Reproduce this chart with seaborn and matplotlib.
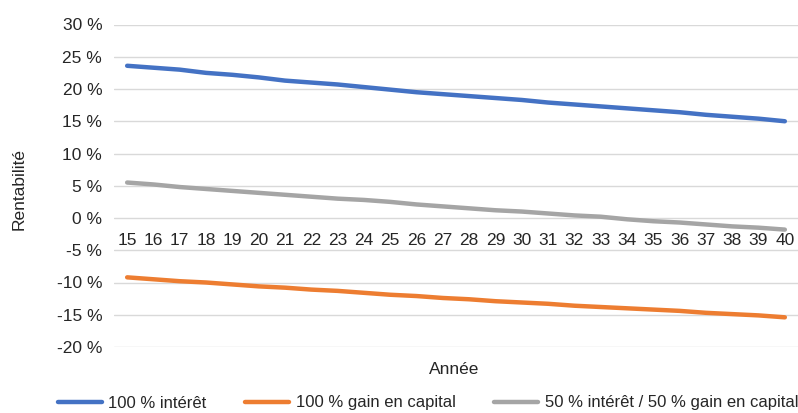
import matplotlib
matplotlib.use('Agg')
import matplotlib.pyplot as plt
import seaborn as sns
import pandas as pd
from matplotlib.lines import Line2D

# Data
years = list(range(15, 41))
interet = [23.6, 23.3, 23.0, 22.5, 22.2, 21.8, 21.3, 21.0, 20.7, 20.3, 19.9, 19.5, 19.2,
           18.9, 18.6, 18.3, 17.9, 17.6, 17.3, 17.0, 16.7, 16.4, 16.0, 15.7, 15.4, 15.0]
gain_capital = [-9.2, -9.5, -9.8, -10.0, -10.3, -10.6, -10.8, -11.1, -11.3, -11.6, -11.9, -12.1, -12.4,
                -12.6, -12.9, -13.1, -13.3, -13.6, -13.8, -14.0, -14.2, -14.4, -14.7, -14.9, -15.1, -15.4]
mixte = [5.5, 5.2, 4.8, 4.5, 4.2, 3.9, 3.6, 3.3, 3.0, 2.8, 2.5, 2.1, 1.8,
         1.5, 1.2, 1.0, 0.7, 0.4, 0.2, -0.2, -0.5, -0.7, -1.0, -1.3, -1.5, -1.8]
series_names = ['100 % intérêt', '100 % gain en capital', '50 % intérêt / 50 % gain en capital']
colors = ['#4472C4', '#ED7D31', '#A5A5A5']
y_ticks = list(range(-20, 35, 5))

df = pd.DataFrame({
    'Année': years * 3,
    'Rentabilité': interet + gain_capital + mixte,
    'Série': [series_names[0]] * len(years) + [series_names[1]] * len(years) + [series_names[2]] * len(years),
})

sns.set_theme(style='white')
plt.rcParams['font.family'] = ['Liberation Sans', 'DejaVu Sans']
text_color = '#262626'
fs = 12.5

fig = plt.figure(figsize=(7.98, 4.13), dpi=100)
ax = fig.add_axes([114 / 798, 1 - 347 / 413, 1 - 114 / 798, (347 - 24.5) / 413])

sns.lineplot(data=df, x='Année', y='Rentabilité', hue='Série', palette=colors,
             linewidth=3.2, legend=False, ax=ax)
for line in ax.get_lines():
    line.set_solid_capstyle('round')

ax.set_xlim(years[0] - 0.5, years[-1] + 0.5)
ax.set_ylim(-20, 30)
ax.set_yticks(y_ticks)
ax.set_yticklabels([f'{v} %' for v in y_ticks])
ax.set_xticks(years)
ax.set_xticklabels([str(y) for y in years])

ax.grid(axis='y', color='#d9d9d9', linewidth=1)
ax.set_axisbelow(True)
for s in ax.spines.values():
    s.set_visible(False)
ax.spines['bottom'].set_position(('data', 0))

ax.tick_params(axis='y', length=0, pad=8.5, labelsize=fs, labelcolor=text_color)
ax.tick_params(axis='x', length=0, pad=11, labelsize=fs, labelcolor=text_color)

ax.set_xlabel('')
ax.set_ylabel('')
fig.text(454 / 798, 1 - 369 / 413, 'Année', ha='center', va='center', fontsize=fs, color=text_color)
fig.text(19 / 798, 1 - 189 / 413, 'Rentabilité', ha='center', va='center', rotation=90,
         fontsize=fs, color=text_color)

handles = [Line2D([0], [0], color=c, linewidth=3.2, solid_capstyle='round') for c in colors]
fig.legend(handles, series_names, loc='center', bbox_to_anchor=(428 / 798, 1 - 403 / 413),
           ncol=3, frameon=False, fontsize=12, handlelength=2.65, handletextpad=0.4,
           columnspacing=2.3, labelcolor=text_color)

fig.savefig('out.png', dpi=100)
